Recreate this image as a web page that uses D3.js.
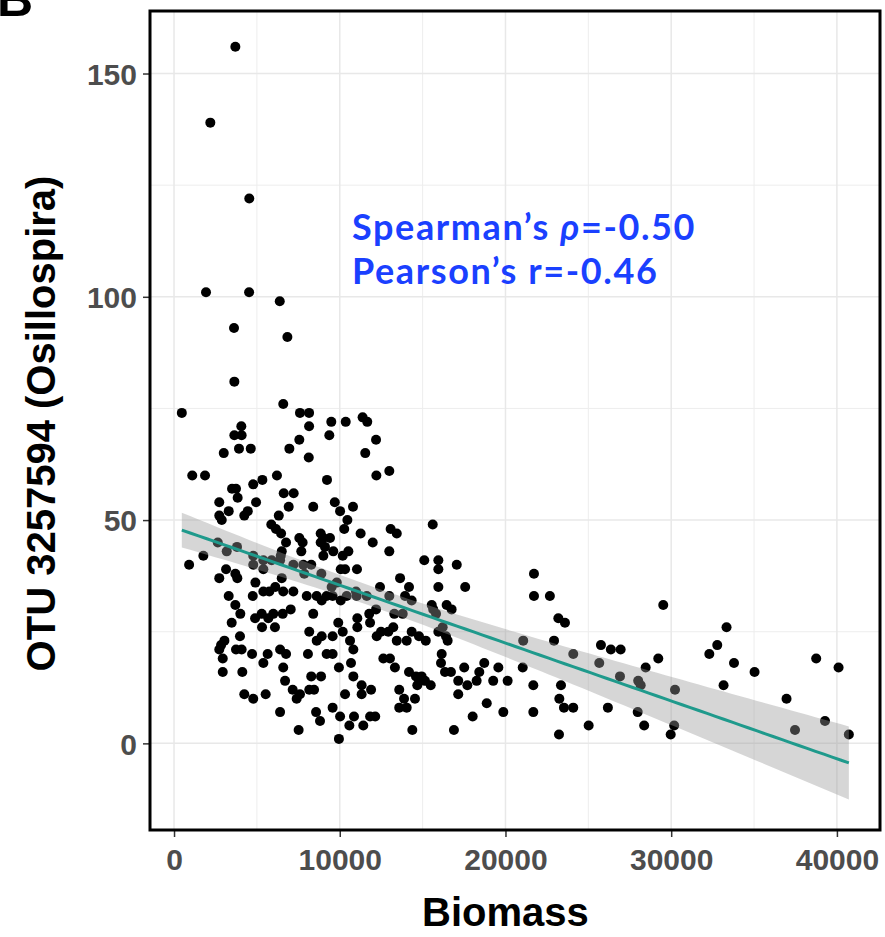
<!DOCTYPE html>
<html>
<head>
<meta charset="utf-8">
<script src="https://cdn.jsdelivr.net/npm/d3@7"></script>
<style>
  body { margin: 0; background: #fff; }
  svg { display: block; }
</style>
</head>
<body>
<svg id="scatter"></svg>
<script>
// values (biomass, OTU count), same order in both arrays
const biomass = [3700,2190,4540,1930,4530,6380,3620,6840,3640,470,6590,7600,8150,8150,9490,10360,11380,11660,4060,3640,
  4080,7560,9370,12190,3000,3920,4630,6960,8130,11540,1100,1870,6210,9230,12210,12990,5330,4780,3500,3740,
  3840,2730,4950,6620,7220,6920,8400,9700,10020,10800,3300,2730,2880,4450,4240,6320,10460,10270,5870,6150,
  6460,13070,13440,11260,7560,7760,8850,9010,9410,8850,6760,2640,3180,3800,11990,7680,9110,9610,9010,10520,
  10180,12990,6500,6440,1770,910,4780,4780,5390,5890,6400,7200,7800,8280,3140,3700,5390,2730,7860,8890,
  10060,10320,11040,6500,3820,9510,9820,13640,12430,4910,3300,4750,5390,5750,6110,6590,7200,8010,8610,8910,
  9210,9570,10060,10420,10980,11020,11630,12990,3700,4000,3480,4890,5290,5690,5990,6560,7040,5310,6090,8400,
  9910,11060,11060,11780,12190,11830,13290,8160,8610,8910,9570,10180,10620,10820,12230,12490,12930,13230,13440,3980,
  2840,3040,2730,2940,3740,4080,4710,5650,5390,6400,6760,8080,9210,9570,2940,4120,6590,6700,9950,10680,
  10820,12630,13030,13330,8280,8870,7160,7600,7400,8160,8450,4240,4780,5530,10320,11320,11320,11890,13590,13590,
  6400,8570,8810,9570,10020,10580,10860,11420,11830,12140,7520,9950,15610,15100,15950,15950,17060,21720,14180,13940,
  14340,15950,17570,21720,22680,13800,15550,15640,15810,16450,16750,23190,23590,14340,14780,15190,14040,15950,16210,16410,
  16510,21070,22930,25760,26360,26950,24090,16150,16110,17510,18720,18420,19570,21040,25660,26910,14180,14600,14940,14800,
  15140,15490,16350,16710,17150,17700,18260,19260,20130,14680,21680,23350,17150,13880,14540,23250,14040,18870,23530,24090,
  26180,18020,19870,21680,14380,16890,25020,23230,29520,29220,28460,28010,28160,30230,27980,28370,30180,29970,32300,32780,
  33340,33790,33160,35030,36960,37470,38750,40100,39280,40720];
const otu = [156,139,122,101,101,99,93,91,81,74,76,74,74,71,72,72,73,72,71,69,
  69,68,69,68,65,66,66,66,64,65,60,60,60,59,60,61,59,58,57,57,
  55,54,54,56,56,53,53,54,52,53,52,51,50,52,51,51,50,48,49,48,
  47,48,47,47,46,45,47,46,46,45,45,45,43,44,45,43,44,43,42,43,
  42,43,43,42,42,40,42,40,41,41,41,40,40,40,39,38,39,37,38,38,
  39,39,39,37,37,35,36,37,35,36,33,33,34,34,35,34,34,33,33,32,
  33,33,32,33,34,33,33,33,31,29,27,28,29,28,29,29,30,26,26,29,
  27,28,26,29,30,27,29,25,23,24,24,25,23,21,24,25,25,26,23,24,
  22,23,21,19,21,21,20,20,18,21,20,20,20,20,16,16,17,14,17,18,
  15,19,19,17,15,15,12,11,10,12,12,11,10,11,11,13,11,12,12,8,
  7,7,5,8,6,4,6,4,6,6,3,1,49,41,41,39,40,38,35,33,
  32,35,35,33,33,29,31,30,29,31,30,28,27,25,24,23,23,25,26,24,
  23,23,23,22,21,21,20,20,18,17,18,16,17,17,18,15,16,15,15,14,
  14,13,16,16,14,13,14,14,14,13,13,13,11,10,10,10,8,9,8,8,
  8,6,7,7,3,3,4,2,31,19,17,14,13,12,7,4,4,2,20,22,
  26,18,13,16,10,3,19,17,5,2];

const xTicks = [0, 10000, 20000, 30000, 40000];
const yTicks = [0, 50, 100, 150];
const xMinor = [5000, 15000, 25000, 35000];
const yMinor = [25, 75, 125];

const W = 885, H = 937;
const margin = {top: 11, right: 5, bottom: 107, left: 150};
const width = W - margin.left - margin.right;
const height = H - margin.top - margin.bottom;

const svg = d3.select("#scatter").attr("width", W).attr("height", H);

const x = d3.scaleLinear().domain([-1450, 42600]).range([0, width]);
const y = d3.scaleLinear().domain([-19.4, 164]).range([height, 0]);

const g = svg.append("g")
  .attr("transform", "translate(" + margin.left + "," + margin.top + ")");

// grid
g.selectAll(".xminor").data(xMinor).enter().append("line")
  .attr("x1", d => x(d)).attr("x2", d => x(d)).attr("y1", 0).attr("y2", height)
  .attr("stroke", "#ededed").attr("stroke-width", 1);
g.selectAll(".yminor").data(yMinor).enter().append("line")
  .attr("x1", 0).attr("x2", width).attr("y1", d => y(d)).attr("y2", d => y(d))
  .attr("stroke", "#ededed").attr("stroke-width", 1);
g.selectAll(".xmajor").data(xTicks).enter().append("line")
  .attr("x1", d => x(d)).attr("x2", d => x(d)).attr("y1", 0).attr("y2", height)
  .attr("stroke", "#e8e8e8").attr("stroke-width", 1.5);
g.selectAll(".ymajor").data(yTicks).enter().append("line")
  .attr("x1", 0).attr("x2", width).attr("y1", d => y(d)).attr("y2", d => y(d))
  .attr("stroke", "#e8e8e8").attr("stroke-width", 1.5);

// linear fit with 95% band, same as geom_smooth(method = "lm")
const n = biomass.length;
const mx = d3.mean(biomass), my = d3.mean(otu);
let sxx = 0, sxy = 0;
for (let i = 0; i < n; i++) {
  sxx += (biomass[i] - mx) * (biomass[i] - mx);
  sxy += (biomass[i] - mx) * (otu[i] - my);
}
const slope = sxy / sxx, icpt = my - slope * mx;
let sse = 0;
for (let i = 0; i < n; i++) sse += Math.pow(otu[i] - icpt - slope * biomass[i], 2);
const s = Math.sqrt(sse / (n - 2));
const tq = 1.968;
const [xlo, xhi] = d3.extent(biomass);
const fit = d3.range(81).map(k => {
  const xv = xlo + (xhi - xlo) * k / 80;
  const yv = icpt + slope * xv;
  const se = s * Math.sqrt(1 / n + (xv - mx) * (xv - mx) / sxx);
  return {x: xv, y: yv, lo: yv - tq * se, hi: yv + tq * se};
});

// points
g.selectAll(".dot").data(d3.range(n)).enter().append("circle")
  .attr("cx", i => x(biomass[i]))
  .attr("cy", i => y(otu[i]))
  .attr("r", 5)
  .attr("fill", "#000");

g.append("path").datum(fit)
  .attr("fill", "#999999").attr("fill-opacity", 0.4)
  .attr("d", d3.area().x(d => x(d.x)).y0(d => y(d.lo)).y1(d => y(d.hi)));
g.append("path").datum(fit)
  .attr("fill", "none").attr("stroke", "#1f9a8c").attr("stroke-width", 3)
  .attr("d", d3.line().x(d => x(d.x)).y(d => y(d.y)));

// axes
const xAxis = g.append("g").attr("transform", "translate(0," + height + ")")
  .call(d3.axisBottom(x).tickValues(xTicks).tickFormat(d3.format("d")).tickSize(7).tickPadding(6));
const yAxis = g.append("g")
  .call(d3.axisLeft(y).tickValues(yTicks).tickSize(7).tickPadding(6));
[xAxis, yAxis].forEach(a => {
  a.select(".domain").remove();
  a.selectAll("line").attr("stroke", "#333").attr("stroke-width", 1.5);
  a.selectAll("text")
    .attr("fill", "#4d4d4d")
    .style("font-family", "'Liberation Sans', Arial, sans-serif")
    .style("font-weight", "bold")
    .style("font-size", "30px");
});
xAxis.selectAll("text").attr("dy", "0.9em");
yAxis.selectAll("text").attr("dy", "0.36em");

// panel border
g.append("rect")
  .attr("x", 0).attr("y", 0).attr("width", width).attr("height", height)
  .attr("fill", "none").attr("stroke", "#000").attr("stroke-width", 3);

// titles
svg.append("text")
  .attr("x", margin.left + x(20000)).attr("y", 926)
  .attr("text-anchor", "middle")
  .style("font-family", "'Liberation Sans', Arial, sans-serif")
  .style("font-weight", "bold").style("font-size", "40px")
  .text("Biomass");

svg.append("text")
  .attr("transform", "translate(55," + (margin.top + height / 2 + 3) + ") rotate(-90)")
  .attr("text-anchor", "middle")
  .style("font-family", "'Liberation Sans', Arial, sans-serif")
  .style("font-weight", "bold").style("font-size", "40px")
  .text("OTU 3257594 (Osillospira)");

// panel letter, clipped by the top edge as in the figure
svg.append("text")
  .attr("x", -3).attr("y", 16)
  .style("font-family", "'Liberation Sans', Arial, sans-serif")
  .style("font-weight", "bold").style("font-size", "50px")
  .text("B");

// correlation note
const note = svg.append("g")
  .style("font-family", "Lato, 'Open Sans', sans-serif")
  .style("font-weight", "bold").style("font-size", "36px")
  .style("letter-spacing", "1.6px")
  .attr("fill", "#1a40ff");
const t1 = note.append("text").attr("x", 352).attr("y", 240);
t1.append("tspan").text("Spearman\u2019s ");
t1.append("tspan").style("font-style", "italic").text("\u03c1");
t1.append("tspan").text("=-0.50");
note.append("text").attr("x", 352).attr("y", 284).text("Pearson\u2019s r=-0.46");
</script>
</body>
</html>
